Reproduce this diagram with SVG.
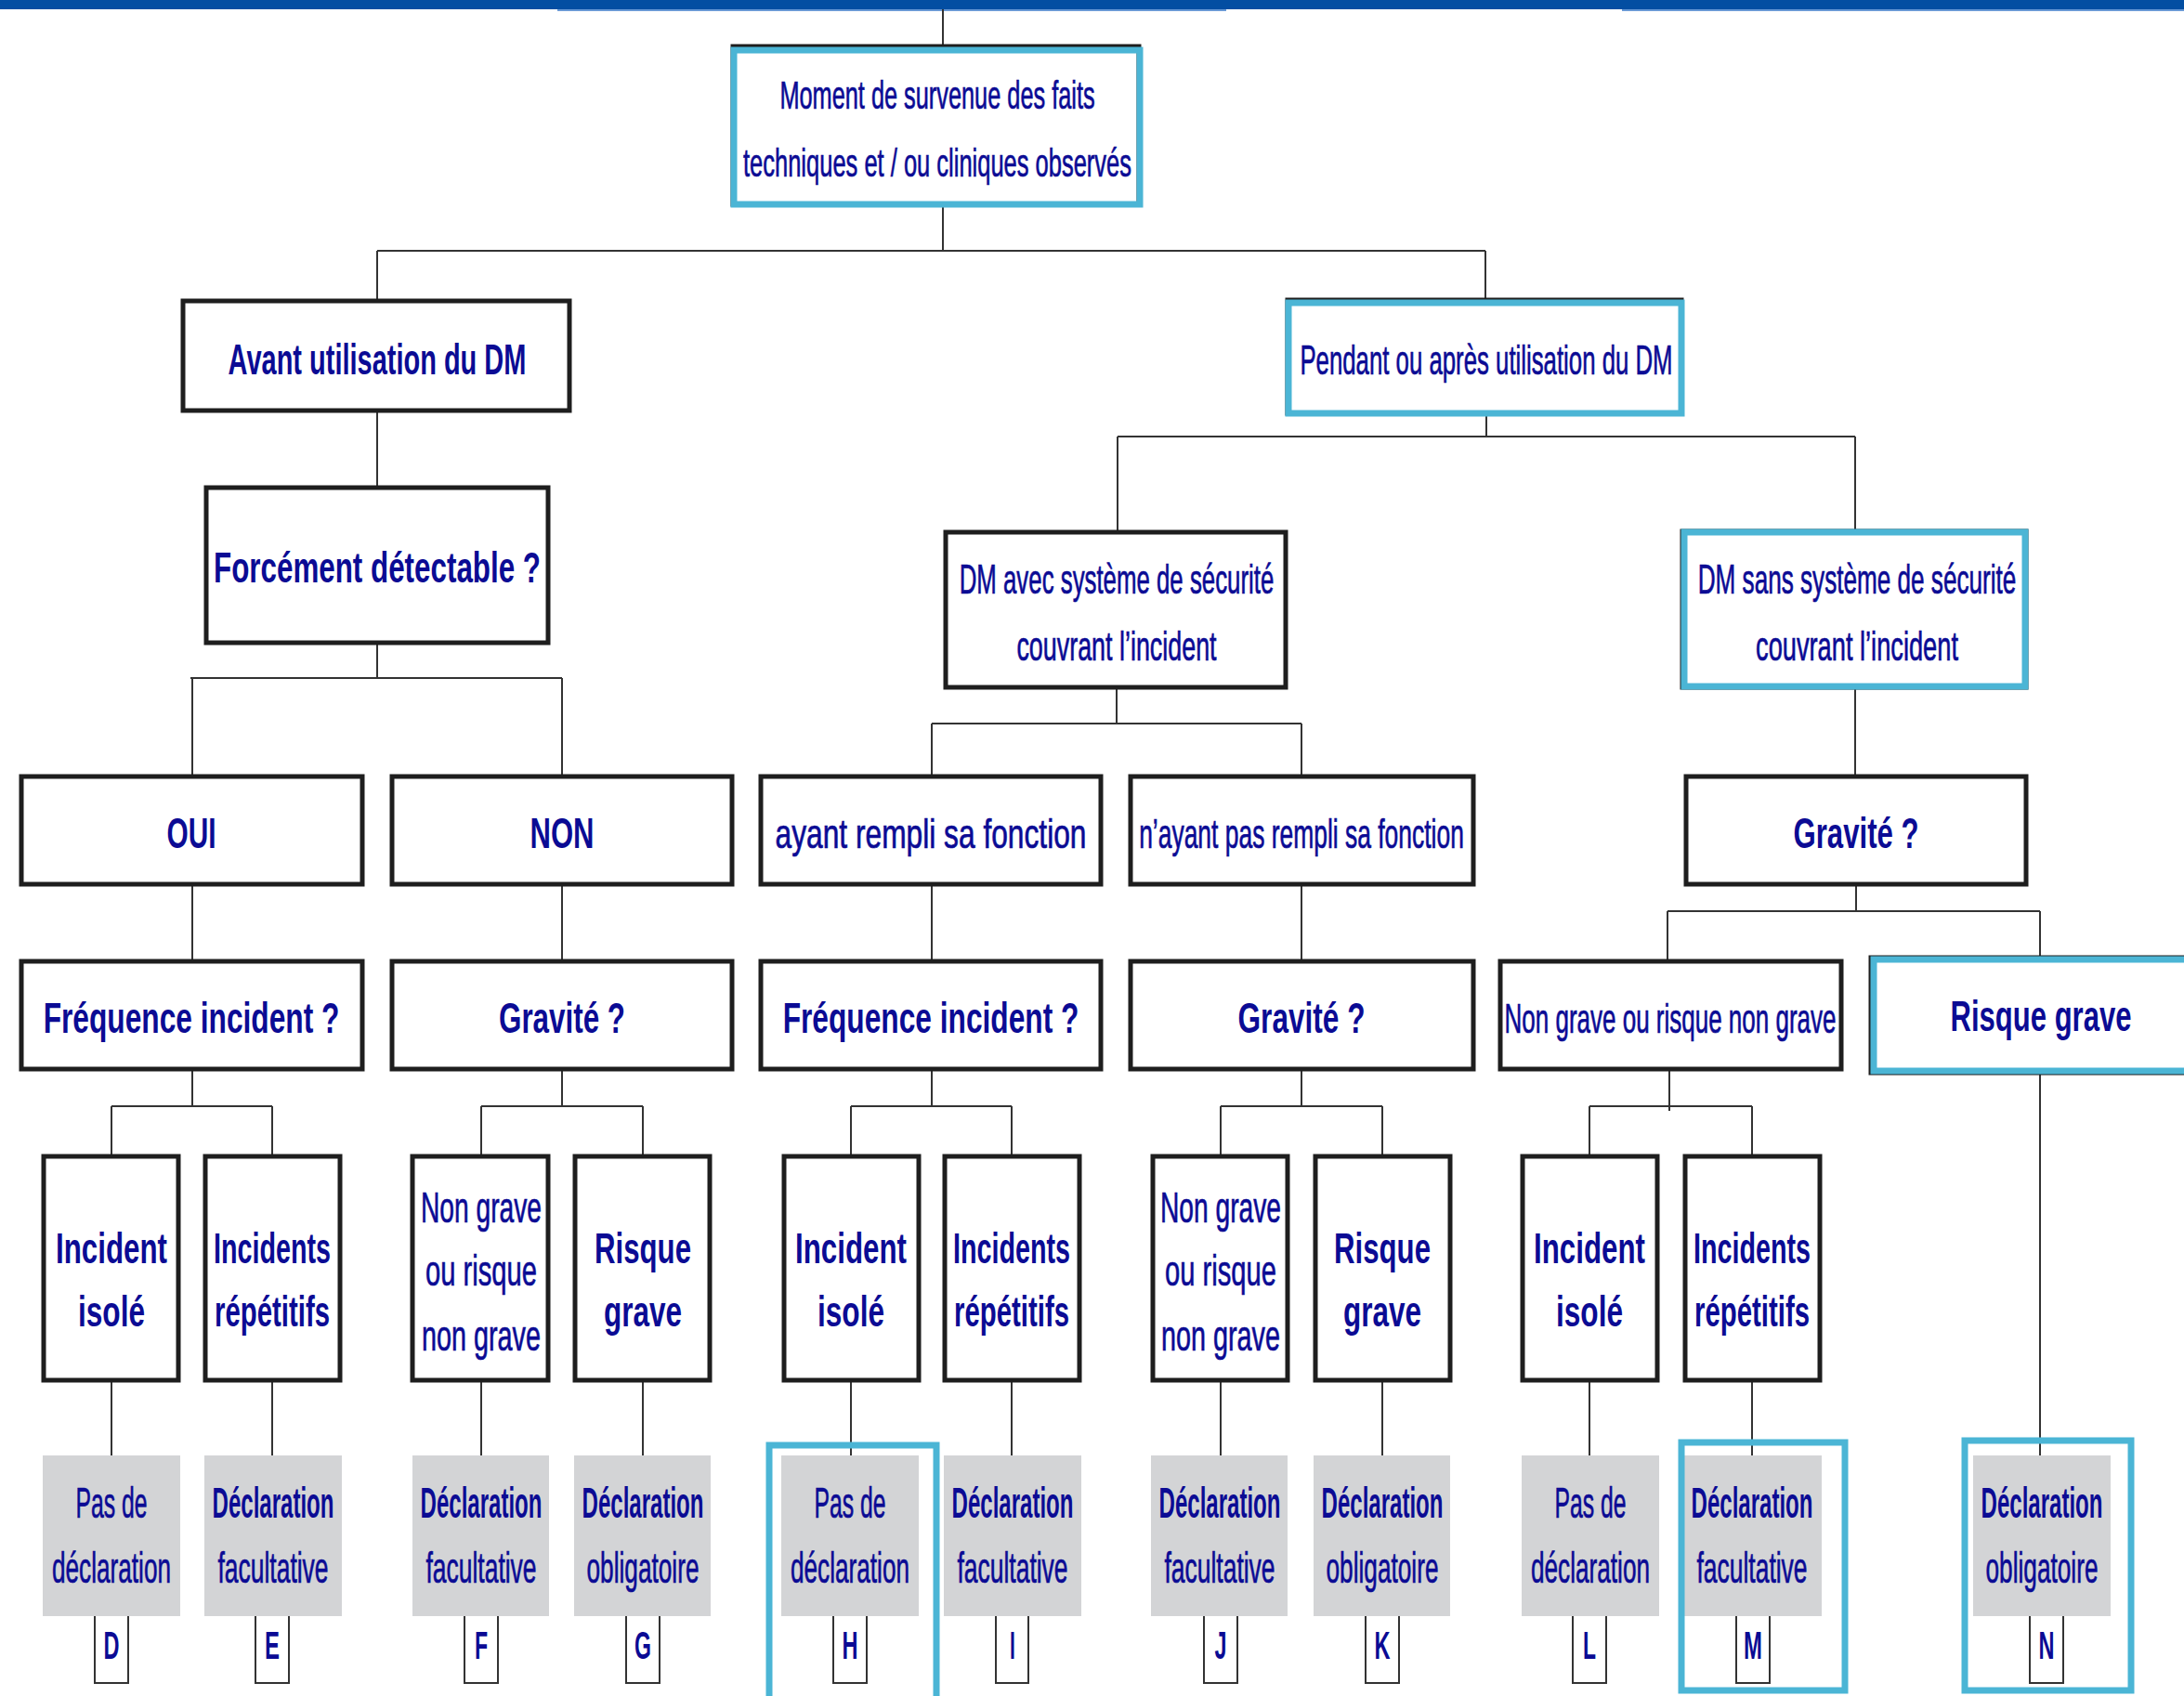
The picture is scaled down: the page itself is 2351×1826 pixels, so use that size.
<svg xmlns="http://www.w3.org/2000/svg" width="2351" height="1826" viewBox="0 0 2351 1826">
<style>
.box{fill:#fff;stroke:#1e1e1e;stroke-width:5}
.hl{fill:none;stroke:#4BB5D5;stroke-width:7}
.grey{fill:#D3D4D6}
.tag{fill:#fff;stroke:#333;stroke-width:2}
.conn{stroke:#333;stroke-width:2;fill:none}
text{font-family:"Liberation Sans",Arial,sans-serif;fill:#0b0b94;text-anchor:middle}
.r{stroke:#0b0b94;stroke-width:0.7}
.b{font-weight:bold}
.s42{font-size:42px}
.s44{font-size:44px}
.s46{font-size:46px}
</style>
<rect x="0" y="0" width="2351" height="10" fill="#034EA2"/>
<rect x="600" y="10" width="720" height="2" fill="#6a9ad6"/>
<rect x="1746" y="10" width="605" height="2" fill="#6a9ad6"/>

<g id="connectors" class="conn">
<path d="M1015 10V50M1015 222V270M406 270H1599M406 270V322M1599 270V322"/>
<path d="M406 444V523M406 694V730M205 730H605M207 730V834M605 730V834"/>
<path d="M1600 447V470M1203 470H1997M1203 470V571M1997 470V571"/>
<path d="M1202 742V779M1003 779H1401M1003 779V834M1401 779V834M1997 742V834"/>
<path d="M207 954V1033M605 954V1033M1003 954V1033M1401 954V1033"/>
<path d="M1998 954V981M1795 981H2196M1795 981V1033M2196 981V1031"/>
<path d="M207 1153V1191M120 1191H293M120 1191V1245M293 1191V1245"/>
<path d="M605 1153V1191M518 1191H692M518 1191V1245M692 1191V1245"/>
<path d="M1003 1153V1191M916 1191H1089M916 1191V1245M1089 1191V1245"/>
<path d="M1401 1153V1191M1314 1191H1488M1314 1191V1245M1488 1191V1245"/>
<path d="M1797 1153V1196M1711 1191H1886M1711 1191V1245M1886 1191V1245"/>
<path d="M120 1488V1567M293 1488V1567M518 1488V1567M692 1488V1567M916 1488V1567M1089 1488V1567M1314 1488V1567M1488 1488V1567M1711 1488V1567M1886 1488V1567"/>
<path d="M2196 1157V1567"/>
</g>

<g id="n-root">
<rect class="box" x="789" y="50" width="437" height="170"/>
<rect class="hl" x="790" y="54" width="437" height="166"/>
<text class="s42 r" transform="translate(1009,117) scale(0.603,1)">Moment de survenue des faits</text>
<text class="s42 r" transform="translate(1009,190) scale(0.607,1)">techniques et / ou cliniques observés</text>
</g>

<g id="n-avant">
<rect class="box" x="197" y="324" width="416" height="118"/>
<text class="s46 b" transform="translate(406,403) scale(0.630,1)">Avant utilisation du DM</text>
</g>

<g id="n-pendant">
<rect class="box" x="1386" y="323" width="424" height="122"/>
<rect class="hl" x="1387" y="326" width="423" height="119"/>
<text class="s44 r" transform="translate(1600,403) scale(0.586,1)">Pendant ou après utilisation du DM</text>
</g>

<g id="n-forcement">
<rect class="box" x="222" y="525" width="368" height="167"/>
<text class="s46 b" transform="translate(406,627) scale(0.682,1)">Forcément détectable ?</text>
</g>

<g id="n-dmavec">
<rect class="box" x="1018" y="573" width="366" height="167"/>
<text class="s44 r" transform="translate(1202,639) scale(0.587,1)">DM avec système de sécurité</text>
<text class="s44 r" transform="translate(1202,711) scale(0.611,1)">couvrant l’incident</text>
</g>

<g id="n-dmsans">
<rect class="box" x="1811" y="572" width="370" height="168"/>
<rect class="hl" x="1813" y="573" width="367" height="166"/>
<text class="s44 r" transform="translate(1999,639) scale(0.594,1)">DM sans système de sécurité</text>
<text class="s44 r" transform="translate(1999,711) scale(0.619,1)">couvrant l’incident</text>
</g>

<g id="n-oui">
<rect class="box" x="23" y="836" width="367" height="116"/>
<text class="s46 b" transform="translate(206,913) scale(0.648,1)">OUI</text>
</g>
<g id="n-non">
<rect class="box" x="422" y="836" width="366" height="116"/>
<text class="s46 b" transform="translate(605,913) scale(0.675,1)">NON</text>
</g>
<g id="n-ayant">
<rect class="box" x="819" y="836" width="366" height="116"/>
<text class="s44 r" transform="translate(1002,913) scale(0.721,1)">ayant rempli sa fonction</text>
</g>
<g id="n-nayant">
<rect class="box" x="1217" y="836" width="369" height="116"/>
<text class="s44 r" transform="translate(1401,913) scale(0.601,1)">n’ayant pas rempli sa fonction</text>
</g>
<g id="n-gravite-top">
<rect class="box" x="1815" y="836" width="366" height="116"/>
<text class="s46 b" transform="translate(1998,913) scale(0.677,1)">Gravité ?</text>
</g>

<g id="n-freq1">
<rect class="box" x="23" y="1035" width="367" height="116"/>
<text class="s46 b" transform="translate(206,1112) scale(0.689,1)">Fréquence incident ?</text>
</g>
<g id="n-grav1">
<rect class="box" x="422" y="1035" width="366" height="116"/>
<text class="s46 b" transform="translate(605,1112) scale(0.682,1)">Gravité ?</text>
</g>
<g id="n-freq2">
<rect class="box" x="819" y="1035" width="366" height="116"/>
<text class="s46 b" transform="translate(1002,1112) scale(0.689,1)">Fréquence incident ?</text>
</g>
<g id="n-grav2">
<rect class="box" x="1217" y="1035" width="369" height="116"/>
<text class="s46 b" transform="translate(1401,1112) scale(0.687,1)">Gravité ?</text>
</g>
<g id="n-nongrave">
<rect class="box" x="1615" y="1035" width="367" height="116"/>
<text class="s44 r" transform="translate(1798,1112) scale(0.591,1)">Non grave ou risque non grave</text>
</g>
<g id="n-risquegrave">
<rect class="box" x="2014" y="1031" width="380" height="124"/>
<rect class="hl" x="2017" y="1033" width="380" height="120"/>
<text class="s46 b" transform="translate(2197,1110) scale(0.675,1)">Risque grave</text>
</g>

<g id="n-r5-1">
<rect class="box" x="47" y="1245" width="145" height="241"/>
<text class="s46 b" transform="translate(120,1360) scale(0.680,1)">Incident</text>
<text class="s46 b" transform="translate(120,1428) scale(0.687,1)">isolé</text>
</g>
<g id="n-r5-2">
<rect class="box" x="221" y="1245" width="145" height="241"/>
<text class="s46 b" transform="translate(293,1360) scale(0.624,1)">Incidents</text>
<text class="s46 b" transform="translate(293,1428) scale(0.638,1)">répétitifs</text>
</g>
<g id="n-r5-3">
<rect class="box" x="444" y="1245" width="146" height="241"/>
<text class="s46 r" transform="translate(518,1316) scale(0.613,1)">Non grave</text>
<text class="s46 r" transform="translate(518,1384) scale(0.634,1)">ou risque</text>
<text class="s46 r" transform="translate(518,1454) scale(0.626,1)">non grave</text>
</g>
<g id="n-r5-4">
<rect class="box" x="619" y="1245" width="145" height="241"/>
<text class="s46 b" transform="translate(692,1360) scale(0.678,1)">Risque</text>
<text class="s46 b" transform="translate(692,1428) scale(0.684,1)">grave</text>
</g>
<g id="n-r5-5">
<rect class="box" x="844" y="1245" width="145" height="241"/>
<text class="s46 b" transform="translate(916,1360) scale(0.680,1)">Incident</text>
<text class="s46 b" transform="translate(916,1428) scale(0.687,1)">isolé</text>
</g>
<g id="n-r5-6">
<rect class="box" x="1017" y="1245" width="145" height="241"/>
<text class="s46 b" transform="translate(1089,1360) scale(0.624,1)">Incidents</text>
<text class="s46 b" transform="translate(1089,1428) scale(0.638,1)">répétitifs</text>
</g>
<g id="n-r5-7">
<rect class="box" x="1241" y="1245" width="145" height="241"/>
<text class="s46 r" transform="translate(1314,1316) scale(0.613,1)">Non grave</text>
<text class="s46 r" transform="translate(1314,1384) scale(0.634,1)">ou risque</text>
<text class="s46 r" transform="translate(1314,1454) scale(0.626,1)">non grave</text>
</g>
<g id="n-r5-8">
<rect class="box" x="1416" y="1245" width="145" height="241"/>
<text class="s46 b" transform="translate(1488,1360) scale(0.678,1)">Risque</text>
<text class="s46 b" transform="translate(1488,1428) scale(0.684,1)">grave</text>
</g>
<g id="n-r5-9">
<rect class="box" x="1639" y="1245" width="145" height="241"/>
<text class="s46 b" transform="translate(1711,1360) scale(0.680,1)">Incident</text>
<text class="s46 b" transform="translate(1711,1428) scale(0.687,1)">isolé</text>
</g>
<g id="n-r5-10">
<rect class="box" x="1814" y="1245" width="145" height="241"/>
<text class="s46 b" transform="translate(1886,1360) scale(0.624,1)">Incidents</text>
<text class="s46 b" transform="translate(1886,1428) scale(0.638,1)">répétitifs</text>
</g>

<g id="o-D">
<rect class="grey" x="46" y="1567" width="148" height="173"/>
<text class="s46 r" transform="translate(120,1634) scale(0.538,1)">Pas de</text>
<text class="s46 r" transform="translate(120,1704) scale(0.569,1)">déclaration</text>
<path class="tag" d="M102 1740V1812H138V1740"/>
<text class="s42 b" transform="translate(120,1786) scale(0.56,1)">D</text>
</g>
<g id="o-E">
<rect class="grey" x="220" y="1567" width="148" height="173"/>
<text class="s46 b" transform="translate(294,1634) scale(0.523,1)">Déclaration</text>
<text class="s46 r" transform="translate(294,1704) scale(0.575,1)">facultative</text>
<path class="tag" d="M275 1740V1812H311V1740"/>
<text class="s42 b" transform="translate(293,1786) scale(0.57,1)">E</text>
</g>
<g id="o-F">
<rect class="grey" x="444" y="1567" width="147" height="173"/>
<text class="s46 b" transform="translate(518,1634) scale(0.523,1)">Déclaration</text>
<text class="s46 r" transform="translate(518,1704) scale(0.575,1)">facultative</text>
<path class="tag" d="M500 1740V1812H536V1740"/>
<text class="s42 b" transform="translate(518,1786) scale(0.55,1)">F</text>
</g>
<g id="o-G">
<rect class="grey" x="618" y="1567" width="147" height="173"/>
<text class="s46 b" transform="translate(692,1634) scale(0.523,1)">Déclaration</text>
<text class="s46 r" transform="translate(692,1704) scale(0.570,1)">obligatoire</text>
<path class="tag" d="M674 1740V1812H710V1740"/>
<text class="s42 b" transform="translate(692,1786) scale(0.55,1)">G</text>
</g>
<g id="o-H">
<rect class="grey" x="841" y="1567" width="148" height="173"/>
<text class="s46 r" transform="translate(915,1634) scale(0.538,1)">Pas de</text>
<text class="s46 r" transform="translate(915,1704) scale(0.569,1)">déclaration</text>
<path class="tag" d="M897 1740V1812H933V1740"/>
<text class="s42 b" transform="translate(915,1786) scale(0.56,1)">H</text>
<path class="hl" d="M828 1840V1556H1008V1840"/>
</g>
<g id="o-I">
<rect class="grey" x="1016" y="1567" width="148" height="173"/>
<text class="s46 b" transform="translate(1090,1634) scale(0.523,1)">Déclaration</text>
<text class="s46 r" transform="translate(1090,1704) scale(0.575,1)">facultative</text>
<path class="tag" d="M1072 1740V1812H1107V1740"/>
<text class="s42 b" transform="translate(1090,1786) scale(0.5,1)">I</text>
</g>
<g id="o-J">
<rect class="grey" x="1239" y="1567" width="147" height="173"/>
<text class="s46 b" transform="translate(1313,1634) scale(0.523,1)">Déclaration</text>
<text class="s46 r" transform="translate(1313,1704) scale(0.575,1)">facultative</text>
<path class="tag" d="M1296 1740V1812H1332V1740"/>
<text class="s42 b" transform="translate(1314,1786) scale(0.556,1)">J</text>
</g>
<g id="o-K">
<rect class="grey" x="1414" y="1567" width="147" height="173"/>
<text class="s46 b" transform="translate(1488,1634) scale(0.523,1)">Déclaration</text>
<text class="s46 r" transform="translate(1488,1704) scale(0.570,1)">obligatoire</text>
<path class="tag" d="M1470 1740V1812H1506V1740"/>
<text class="s42 b" transform="translate(1488,1786) scale(0.56,1)">K</text>
</g>
<g id="o-L">
<rect class="grey" x="1638" y="1567" width="148" height="173"/>
<text class="s46 r" transform="translate(1712,1634) scale(0.538,1)">Pas de</text>
<text class="s46 r" transform="translate(1712,1704) scale(0.569,1)">déclaration</text>
<path class="tag" d="M1693 1740V1812H1729V1740"/>
<text class="s42 b" transform="translate(1711,1786) scale(0.545,1)">L</text>
</g>
<g id="o-M">
<rect class="grey" x="1811" y="1567" width="150" height="173"/>
<text class="s46 b" transform="translate(1886,1634) scale(0.523,1)">Déclaration</text>
<text class="s46 r" transform="translate(1886,1704) scale(0.575,1)">facultative</text>
<path class="tag" d="M1869 1740V1812H1905V1740"/>
<text class="s42 b" transform="translate(1887,1786) scale(0.57,1)">M</text>
<rect class="hl" x="1810" y="1553" width="176" height="267"/>
</g>
<g id="o-N">
<rect class="grey" x="2124" y="1567" width="148" height="173"/>
<text class="s46 b" transform="translate(2198,1634) scale(0.523,1)">Déclaration</text>
<text class="s46 r" transform="translate(2198,1704) scale(0.570,1)">obligatoire</text>
<path class="tag" d="M2185 1740V1812H2221V1740"/>
<text class="s42 b" transform="translate(2203,1786) scale(0.56,1)">N</text>
<rect class="hl" x="2115" y="1551" width="179" height="269"/>
</g>
</svg>
